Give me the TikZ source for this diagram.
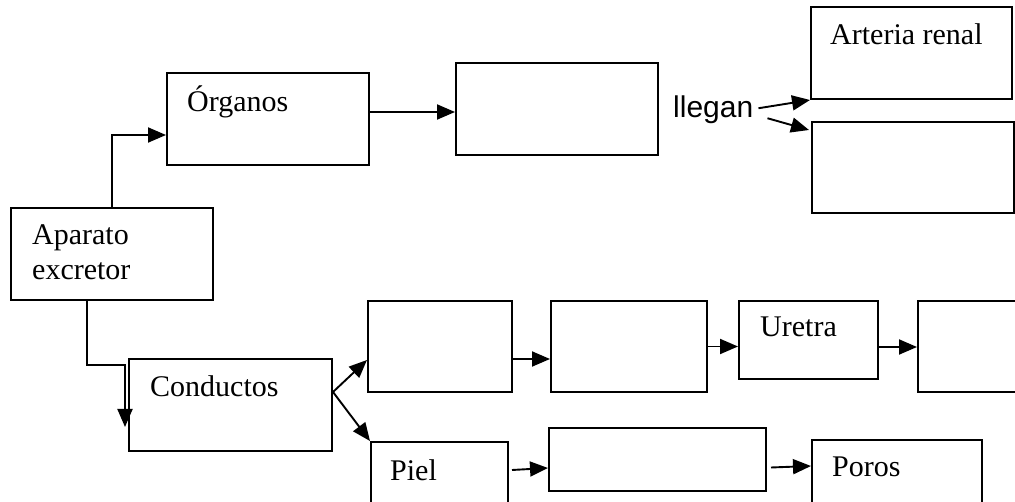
\documentclass[tikz,border=0pt]{standalone}
\usepackage{fontspec}
\setmainfont{Liberation Serif}
\newfontfamily\sansf{Liberation Sans}
\usetikzlibrary{arrows.meta}
\begin{document}
\begin{tikzpicture}[x=1pt,y=-1pt,
  box/.style={draw, line width=2pt, rectangle, inner sep=0pt},
  txt/.style={inner sep=0pt, anchor=base west, font=\fontsize{30}{35}\selectfont},
  stxt/.style={inner sep=0pt, anchor=base west, font=\sansf\fontsize{30}{35}\selectfont},
  arr/.style={line width=1.9pt, -{Triangle[length=18pt,width=15pt]}}]
\clip (0,0) rectangle (1015,502);
\fill[white] (0,0) rectangle (1015,502);

% boxes
\node[box, minimum width=202pt, minimum height=92pt] (apa) at (112,254) {};
\node[box, minimum width=202pt, minimum height=92pt] (org) at (268,119) {};
\node[box, minimum width=202pt, minimum height=92pt] (top) at (557,109) {};
\node[box, minimum width=201pt, minimum height=92pt] (art) at (911.5,53) {};
\node[box, minimum width=202pt, minimum height=91pt] (ren) at (913,167.5) {};
\node[box, minimum width=203pt, minimum height=92pt] (con) at (230.5,405) {};
\node[box, minimum width=144pt, minimum height=91pt] (b1) at (440,346.5) {};
\node[box, minimum width=156pt, minimum height=91pt] (b2) at (629,346.5) {};
\node[box, minimum width=139pt, minimum height=78pt] (ure) at (808.5,340) {};
\node[box, minimum width=142pt, minimum height=91pt] (b4) at (989,346.5) {};
\node[box, minimum width=137pt, minimum height=92pt] (piel) at (439.5,488) {};
\node[box, minimum width=217pt, minimum height=63pt] (b3) at (657.5,459.5) {};
\node[box, minimum width=170pt, minimum height=92pt] (por) at (897,486) {};

% labels
\node[txt] (torg) at (187,112) {Órganos};
\node[txt] (tapa1) at (32,245) {Aparato};
\node[txt] (tapa2) at (32,280) {excretor};
\node[stxt] (lleg) at (673,118) {llegan};
\node[txt] (tart) at (830,45) {Arteria renal};
\node[txt] (tcon) at (150,397) {Conductos};
\node[txt] (ture) at (760,337) {Uretra};
\node[txt] (tpiel) at (390,480) {Piel};
\node[txt] (tpor) at (832,476) {Poros};

% connectors
\draw[arr] (apa.north) |- ([yshift=-16pt]org.west);
\draw[arr] ([yshift=7pt]org.east) -- ([yshift=7pt]org.east -| top.west);
\draw[arr] ([xshift=5pt,yshift=2pt]lleg.east) -- (art.south west);
\draw[arr] ([xshift=14pt,yshift=-8pt]lleg.east) -- ([xshift=-2pt,yshift=-9pt]ren.north west);
\draw[arr] ([xshift=-25pt]apa.south) -- ++(0,64) -| ([xshift=-3pt,yshift=-22pt]con.west);
\draw[arr] ([yshift=13pt]con.east) -- ([yshift=-13.5pt]b1.west);
\draw[arr] ([yshift=13pt]con.east) -- (piel.north west);
\draw[arr] ([yshift=-12.5pt]b1.east) -- ([yshift=-12.5pt]b1.east -| b2.west);
\draw[arr] (b2.east) -- (b2.east -| ure.west);
\draw[arr] ([yshift=-7pt]ure.east) -- ([yshift=-7pt]ure.east -| b4.west);
\draw[arr] ([xshift=3pt,yshift=18pt]piel.east) -- ([yshift=-8.5pt]b3.west);
\draw[arr] ([xshift=4pt,yshift=-8pt]b3.east) -- ([yshift=20pt]por.west);
\end{tikzpicture}
\end{document}
